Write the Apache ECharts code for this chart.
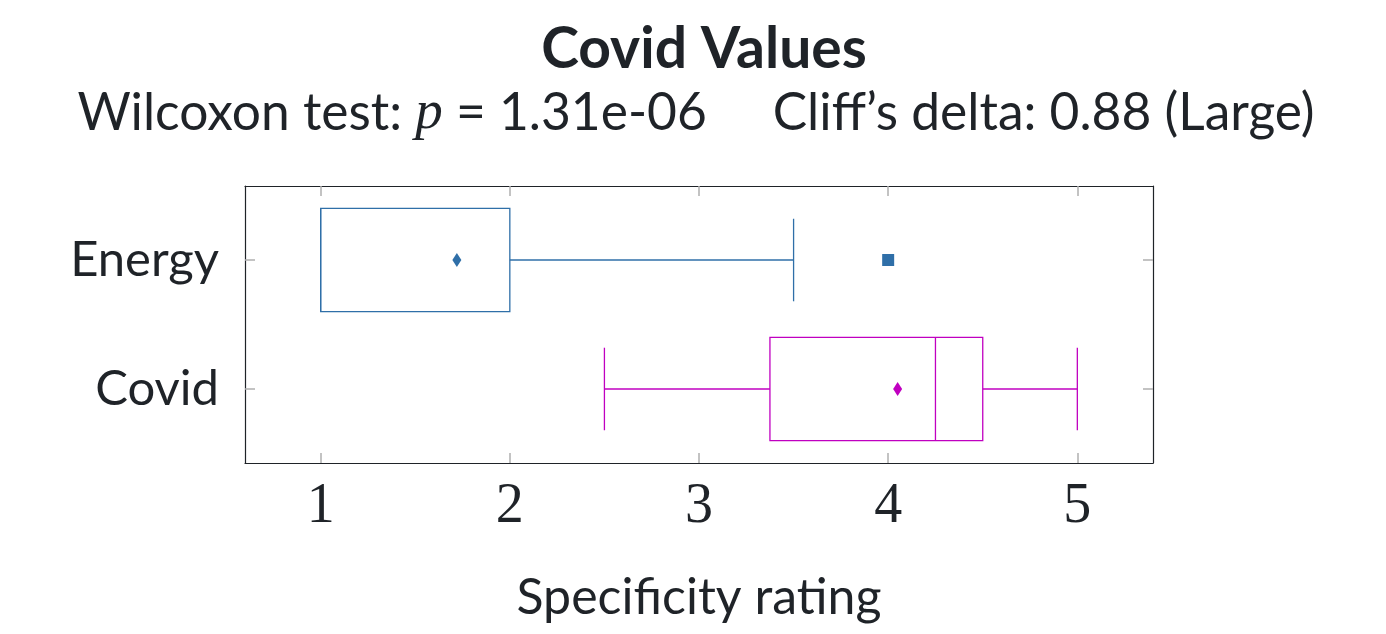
<!DOCTYPE html>
<html>
<head>
<meta charset="utf-8">
<script src="https://cdn.jsdelivr.net/npm/echarts@6/dist/echarts.min.js"></script>
<style>
  html, body { margin: 0; padding: 0; background: #fff; }
  #chart { width: 1386px; height: 634px; }
</style>
</head>
<body>
<div id="chart"></div>
<script>
// box statistics, one entry per category (top to bottom)
const categories = ['Energy', 'Covid'];
const lowWhisker = [1, 2.5];
const q1 = [1, 3.375];
const median = [1, 4.25];
const q3 = [2, 4.5];
const highWhisker = [3.5, 5];
const means = [1.72, 4.05];
const outliers = [[4, 0]]; // [value, category index]
const xTicks = [1, 2, 3, 4, 5];
const colors = ['#2f6fa8', '#c000c0'];

const sansFont = 'Lato';
const serifFont = 'Liberation Serif';
const tickGray = '#b0b0b0';
const frame = '#1f2328';

const chart = echarts.init(document.getElementById('chart'));

const boxData = categories.map((c, i) => [i, lowWhisker[i], q1[i], median[i], q3[i], highWhisker[i]]);

function renderBox(params, api) {
  const i = api.value(0);
  const color = colors[i];
  const half = 0.4, cap = 0.32;
  const lo = api.coord([api.value(1), i]);
  const a = api.coord([api.value(2), i - half]);
  const b = api.coord([api.value(4), i + half]);
  const med = api.coord([api.value(3), i]);
  const hi = api.coord([api.value(5), i]);
  const capTop = api.coord([0, i - cap])[1];
  const capBot = api.coord([0, i + cap])[1];
  const style = { stroke: color, fill: null, lineWidth: 1.3 };
  const children = [
    { type: 'rect', shape: { x: a[0], y: a[1], width: b[0] - a[0], height: b[1] - a[1] }, style: style },
    { type: 'line', shape: { x1: med[0], y1: a[1], x2: med[0], y2: b[1] }, style: style }
  ];
  if (lo[0] < a[0]) {
    children.push({ type: 'line', shape: { x1: lo[0], y1: lo[1], x2: a[0], y2: lo[1] }, style: style });
    children.push({ type: 'line', shape: { x1: lo[0], y1: capTop, x2: lo[0], y2: capBot }, style: style });
  }
  if (hi[0] > b[0]) {
    children.push({ type: 'line', shape: { x1: b[0], y1: hi[1], x2: hi[0], y2: hi[1] }, style: style });
    children.push({ type: 'line', shape: { x1: hi[0], y1: capTop, x2: hi[0], y2: capBot }, style: style });
  }
  return { type: 'group', children: children };
}

const frameLine = { show: true, onZero: false, lineStyle: { color: frame, width: 1.2 } };
const tickStyle = { color: tickGray, width: 1.5 };

const option = {
  animation: false,
  title: [
    {
      text: 'Covid Values',
      left: 699, top: 16, textAlign: 'center',
      textStyle: { fontFamily: sansFont, fontWeight: 'bold', fontSize: 57, color: frame }
    },
    {
      text: '{t|Wilcoxon test: }{m|p}{t| = 1.31e-06     Cliff\u2019s delta: 0.88 (Large)}',
      left: 691, top: 81, textAlign: 'center',
      textStyle: {
        fontWeight: 'normal',
        rich: {
          t: { fontFamily: sansFont, fontWeight: 'normal', fontSize: 51.5, color: frame },
          m: { fontFamily: serifFont, fontStyle: 'italic', fontWeight: 'normal', fontSize: 55, color: frame }
        }
      }
    }
  ],
  grid: { left: 245, top: 186, right: 233, bottom: 171 },
  xAxis: [
    {
      type: 'value', min: 0.6, max: 5.4,
      name: 'Specificity rating', nameLocation: 'middle', nameGap: 110,
      nameTextStyle: { fontFamily: sansFont, fontSize: 50, color: frame },
      axisLine: frameLine,
      axisTick: { show: true, inside: true, length: 10, customValues: xTicks, lineStyle: tickStyle },
      axisLabel: { customValues: xTicks, margin: 16, fontFamily: serifFont, fontSize: 56, color: frame },
      splitLine: { show: false }
    },
    {
      type: 'value', min: 0.6, max: 5.4, position: 'top',
      axisLine: frameLine,
      axisTick: { show: true, inside: true, length: 10, customValues: xTicks, lineStyle: tickStyle },
      axisLabel: { show: false },
      splitLine: { show: false }
    }
  ],
  yAxis: [
    {
      type: 'value', min: -0.574, max: 1.574, inverse: true,
      axisLine: frameLine,
      axisTick: { show: true, inside: true, length: 10, customValues: [0, 1], lineStyle: tickStyle },
      axisLabel: {
        customValues: [0, 1], margin: 26,
        formatter: v => categories[Math.round(v)],
        fontFamily: sansFont, fontSize: 49, color: frame
      },
      splitLine: { show: false }
    },
    {
      type: 'value', min: -0.574, max: 1.574, inverse: true, position: 'right',
      axisLine: frameLine,
      axisTick: { show: true, inside: true, length: 10, customValues: [0, 1], lineStyle: tickStyle },
      axisLabel: { show: false },
      splitLine: { show: false }
    }
  ],
  series: [
    {
      type: 'custom',
      renderItem: renderBox,
      encode: { x: [1, 2, 3, 4, 5], y: 0 },
      data: boxData,
      z: 2
    },
    {
      type: 'scatter',
      symbol: 'diamond',
      symbolSize: [9, 14],
      data: means.map((m, i) => ({ value: [m, i], itemStyle: { color: colors[i], opacity: 1 } })),
      z: 3
    },
    {
      type: 'scatter',
      symbol: 'rect',
      symbolSize: 12,
      data: outliers.map(o => ({ value: [o[0], o[1]], itemStyle: { color: colors[o[1]], opacity: 1 } })),
      z: 3
    }
  ]
};

chart.setOption(option);
</script>
</body>
</html>
